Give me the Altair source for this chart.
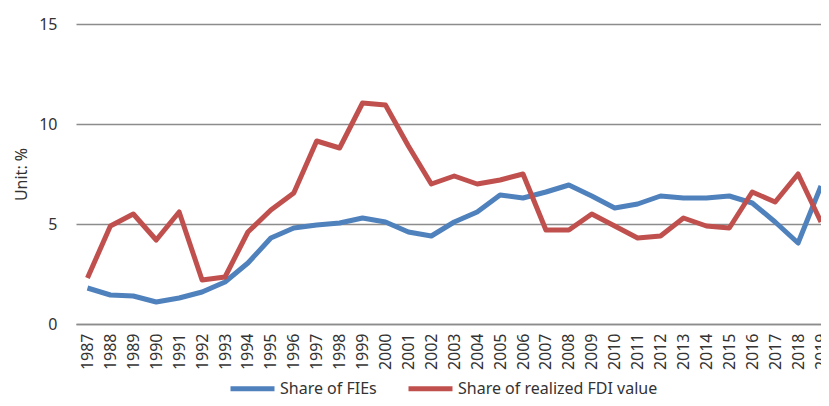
import altair as alt
import pandas as pd

years = list(range(1987, 2020))
share_fies = [1.8, 1.45, 1.4, 1.1, 1.3, 1.6, 2.1, 3.05, 4.3, 4.8, 4.95, 5.05, 5.3, 5.1,
              4.6, 4.4, 5.1, 5.6, 6.45, 6.3, 6.6, 6.95, 6.4, 5.8, 6.0, 6.4, 6.3, 6.3,
              6.4, 6.05, 5.1, 4.05, 6.9]
share_fdi = [2.3, 4.9, 5.5, 4.2, 5.6, 2.2, 2.35, 4.6, 5.7, 6.55, 9.15, 8.8, 11.05, 10.95,
             8.9, 7.0, 7.4, 7.0, 7.2, 7.5, 4.7, 4.7, 5.5, 4.9, 4.3, 4.4, 5.3, 4.9,
             4.8, 6.6, 6.1, 7.5, 5.1]
series_names = ["Share of FIEs", "Share of realized FDI value"]
series_colors = ["#4F81BD", "#C0504D"]
y_ticks = [0, 5, 10, 15]

rows = []
for i, y in enumerate(years):
    rows.append({"year": y, "series": series_names[0], "value": share_fies[i]})
    rows.append({"year": y, "series": series_names[1], "value": share_fdi[i]})
df = pd.DataFrame(rows)

FONT = "Noto Sans"
TXT = "#333333"
FS = 16

chart = alt.Chart(df).mark_line(strokeWidth=5, strokeJoin="round", clip=True).encode(
    x=alt.X("year:Q",
            scale=alt.Scale(domain=[1986.5, 2019.0], nice=False, zero=False),
            axis=alt.Axis(values=years, format="d", labelAngle=270, grid=False,
                          ticks=False, tickSize=0, labelFlush=False, labelOverlap=False,
                          labelPadding=9, domainColor="#8c8c8c", domainWidth=1.5,
                          labelFont=FONT, labelFontSize=FS, labelColor=TXT, title=None)),
    y=alt.Y("value:Q",
            scale=alt.Scale(domain=[0, 15], nice=False),
            axis=alt.Axis(values=y_ticks, grid=True, gridColor="#8c8c8c", gridWidth=1.5,
                          domain=False, ticks=False, tickSize=0, labelPadding=19,
                          labelFont=FONT, labelFontSize=FS, labelColor=TXT,
                          title="Unit: %", titleFont=FONT, titleFontSize=FS,
                          titleFontWeight="normal", titleColor=TXT, titleLimit=300,
                          titleX=-55, titleY=150, titleAngle=270,
                          titleAlign="center", titleBaseline="middle")),
    color=alt.Color("series:N",
                    scale=alt.Scale(domain=series_names, range=series_colors),
                    sort=series_names,
                    legend=alt.Legend(orient="none", legendX=152, legendY=340,
                                      direction="horizontal", title=None,
                                      symbolType="stroke", symbolSize=1936,
                                      symbolStrokeWidth=5, labelFont=FONT,
                                      labelFontSize=FS, labelColor=TXT, labelLimit=400,
                                      labelOffset=3, columnPadding=21)),
).properties(
    width=745, height=300,
    autosize=alt.AutoSizeParams(type="none"),
    padding={"left": 68, "top": 16, "right": 0, "bottom": 74},
).configure_view(stroke=None).configure_axisY(titleFontSize=FS, titleFont=FONT)

chart.save("out.html", embed_options={"renderer": "svg", "actions": False})
